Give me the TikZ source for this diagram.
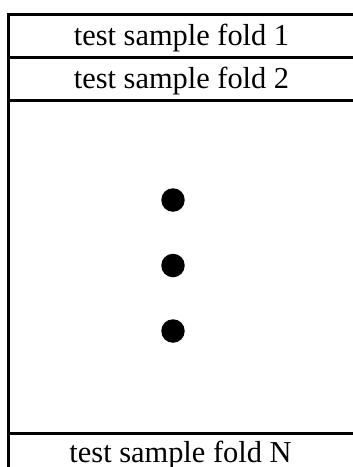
\documentclass[tikz,border=0pt]{standalone}
\usepackage{fontspec}
\setmainfont{Liberation Serif}
\usepackage{tikz}
\usetikzlibrary{positioning}

\begin{document}
\begin{tikzpicture}[x=1pt, y=-1pt, every node/.style={font=\fontsize{30.4}{36}\selectfont}, rule/.style={line width=3pt}, fold/.style={anchor=base, inner sep=0pt}, dot/.style={circle, fill=black, minimum size=23.5pt, inner sep=0pt}]
\useasboundingbox (0,0) rectangle (353,467);
\coordinate (tl) at (8.5,14);
\coordinate (bl) at (8.5,470);
\node[fold] (f1) at (181.5,45) {test sample fold 1};
\node[fold] (f2) at (181.5,88.5) {test sample fold 2};
\node[dot] (d1) at (173,200) {};
\node[dot] (d2) at (173,265.5) {};
\node[dot] (d3) at (173,331) {};
\node[fold] (fn) at (180.5,462) {test sample fold N};
\draw[rule] (tl)--(bl);
\foreach \y in {14,57,100,433} \draw[rule] (7,\y)--(356,\y);
\end{tikzpicture}
\end{document}
